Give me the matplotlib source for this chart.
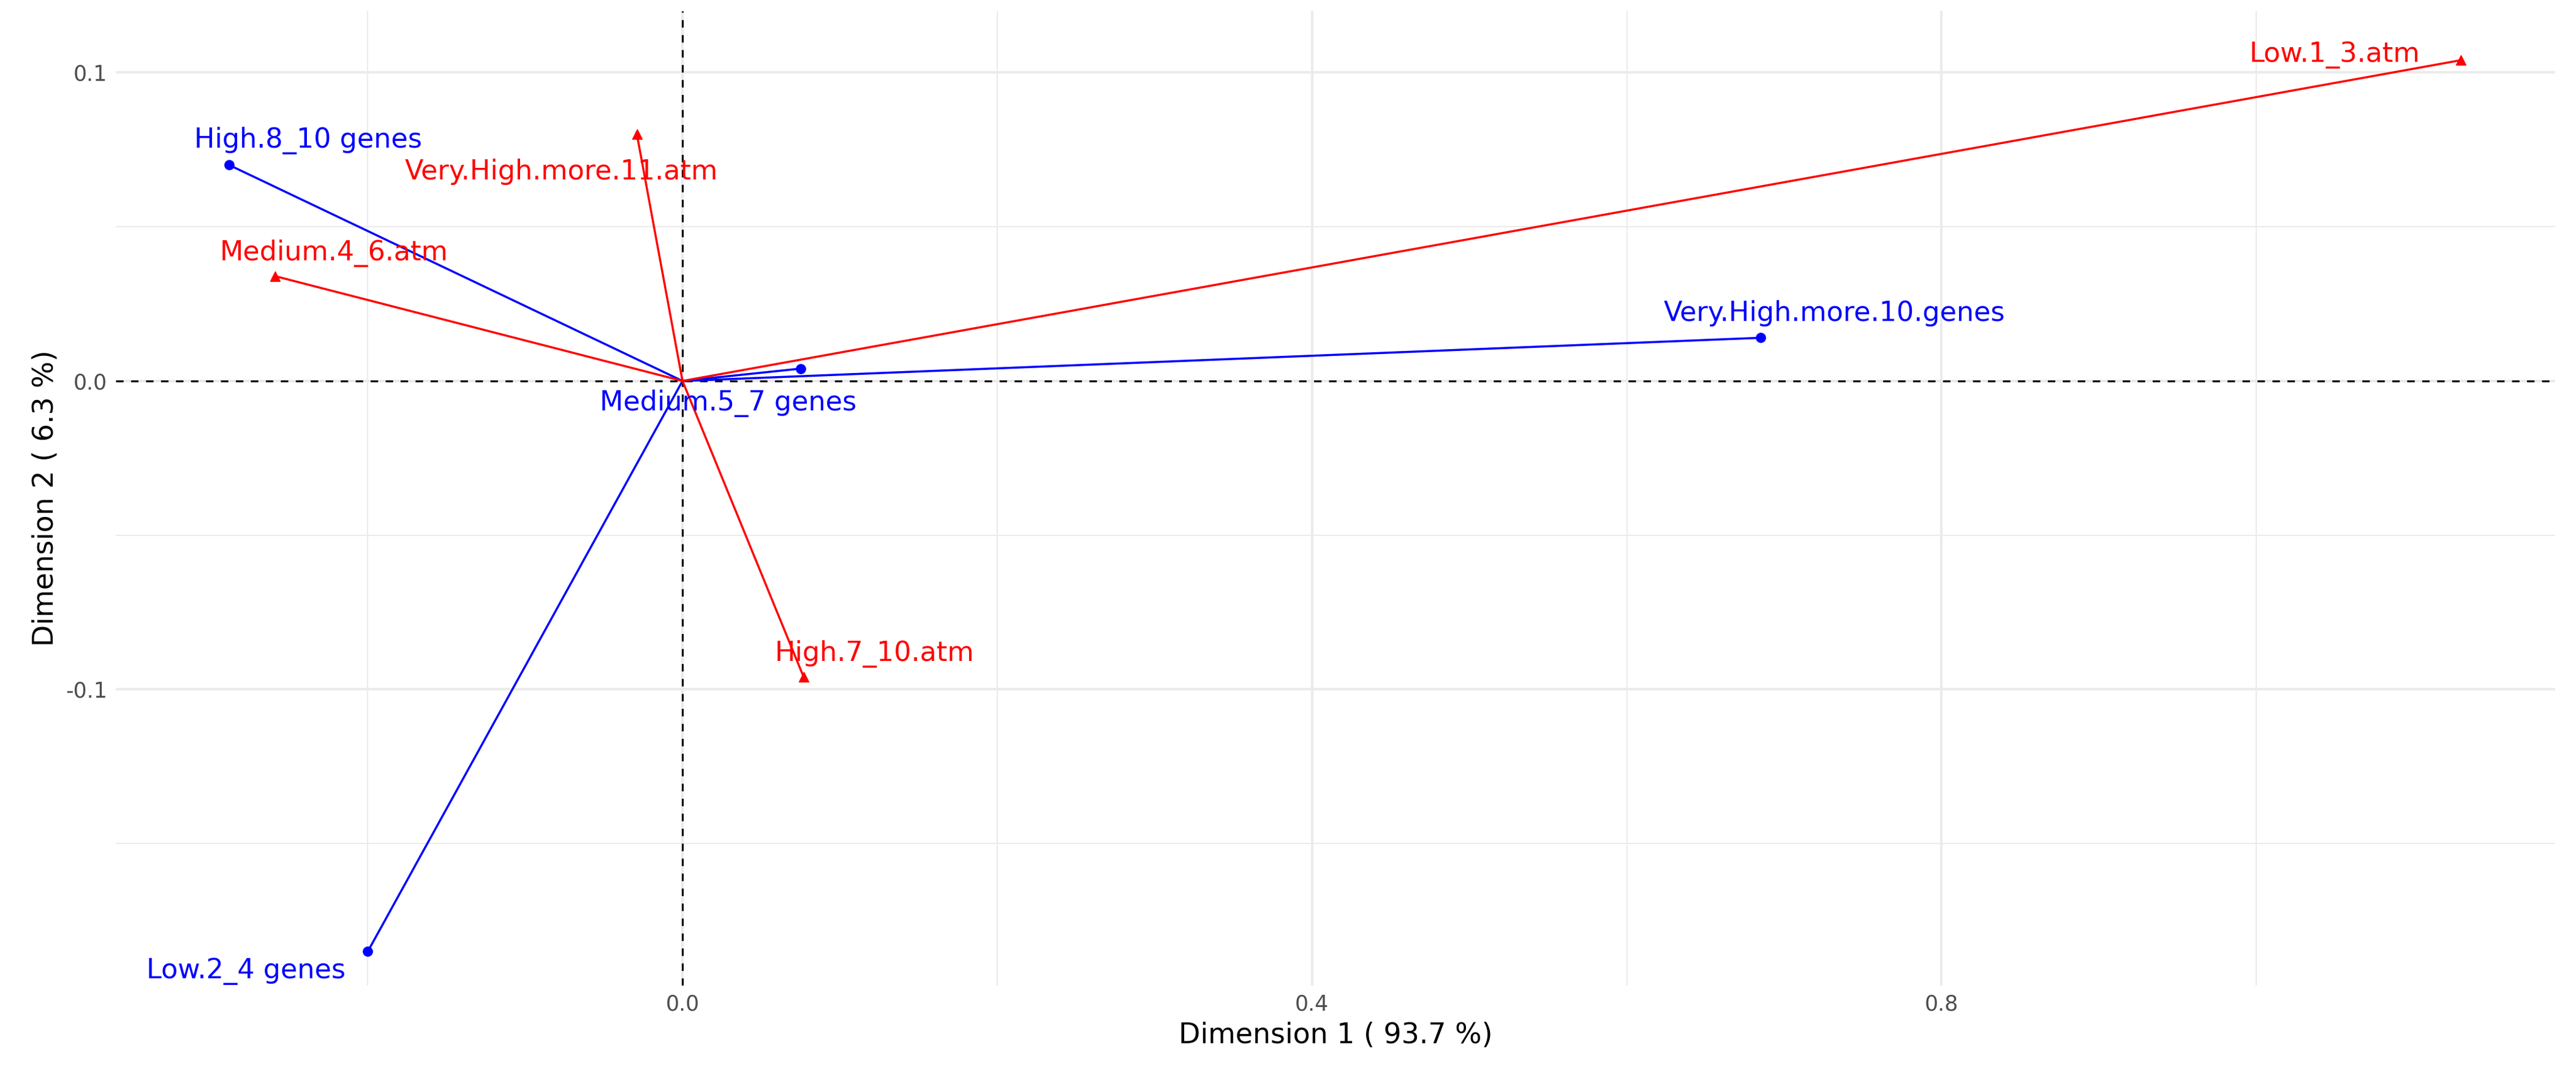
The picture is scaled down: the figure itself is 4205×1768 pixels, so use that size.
import matplotlib
matplotlib.use('Agg')
import matplotlib.pyplot as plt

# row (genes) and column (atm) coordinates
gene_labels = ['High.8_10 genes', 'Very.High.more.10.genes', 'Medium.5_7 genes', 'Low.2_4 genes']
gene_x = [-0.288, 0.685, 0.075, -0.200]
gene_y = [0.070, 0.014, 0.004, -0.185]
atm_labels = ['Low.1_3.atm', 'Very.High.more.11.atm', 'Medium.4_6.atm', 'High.7_10.atm']
atm_x = [1.130, -0.029, -0.259, 0.077]
atm_y = [0.104, 0.080, 0.034, -0.096]

# label offsets in reference pixels (dx right, dy up)
gene_off = [(48, 15), (45, 15), (-44, -21), (-74, -12)]
atm_off = [(-77, 3), (-46, -23), (36, 14), (43, 14)]
K = 1.93

fig, ax = plt.subplots(figsize=(42.05, 17.68), dpi=100)
fig.subplots_adjust(left=0.045, right=0.992, top=0.99, bottom=0.09)

ax.set_xlim(-0.36, 1.19)
ax.set_ylim(-0.196, 0.12)
for v in [-0.2, 0.2, 0.6, 1.0]:
    ax.axvline(v, color='#ebebeb', lw=1.5, zorder=0)
for v in [-0.15, -0.05, 0.05]:
    ax.axhline(v, color='#ebebeb', lw=1.5, zorder=0)
ax.set_xticks([0.0, 0.4, 0.8])
ax.set_yticks([-0.1, 0.0, 0.1])
ax.set_yticklabels(['-0.1', '0.0', '0.1'])
ax.grid(True, color='#ebebeb', lw=3)
ax.set_axisbelow(True)
for s in ax.spines.values():
    s.set_visible(False)
ax.tick_params(length=0, labelsize=25, colors='#4d4d4d', pad=10)

ax.axhline(0, color='black', ls=(0, (4, 4)), lw=2.2)
ax.axvline(0, color='black', ls=(0, (4, 4)), lw=2.2)

for lab, x, y, (dx, dy) in zip(gene_labels, gene_x, gene_y, gene_off):
    ax.plot([0, x], [0, y], color='blue', lw=2.5)
    ax.plot(x, y, 'o', color='blue', ms=11)
    ax.annotate(lab, (x, y), xytext=(dx * K, dy * K), textcoords='offset points',
                ha='center', va='center', color='blue', fontsize=32)
for lab, x, y, (dx, dy) in zip(atm_labels, atm_x, atm_y, atm_off):
    ax.plot([0, x], [0, y], color='red', lw=2.5)
    ax.plot(x, y, '^', color='red', ms=12)
    ax.annotate(lab, (x, y), xytext=(dx * K, dy * K), textcoords='offset points',
                ha='center', va='center', color='red', fontsize=32)

ax.set_xlabel('Dimension 1 ( 93.7 %)', fontsize=33, labelpad=8)
ax.set_ylabel('Dimension 2 ( 6.3 %)', fontsize=33, labelpad=8)

plt.savefig('out.png', dpi=100)
